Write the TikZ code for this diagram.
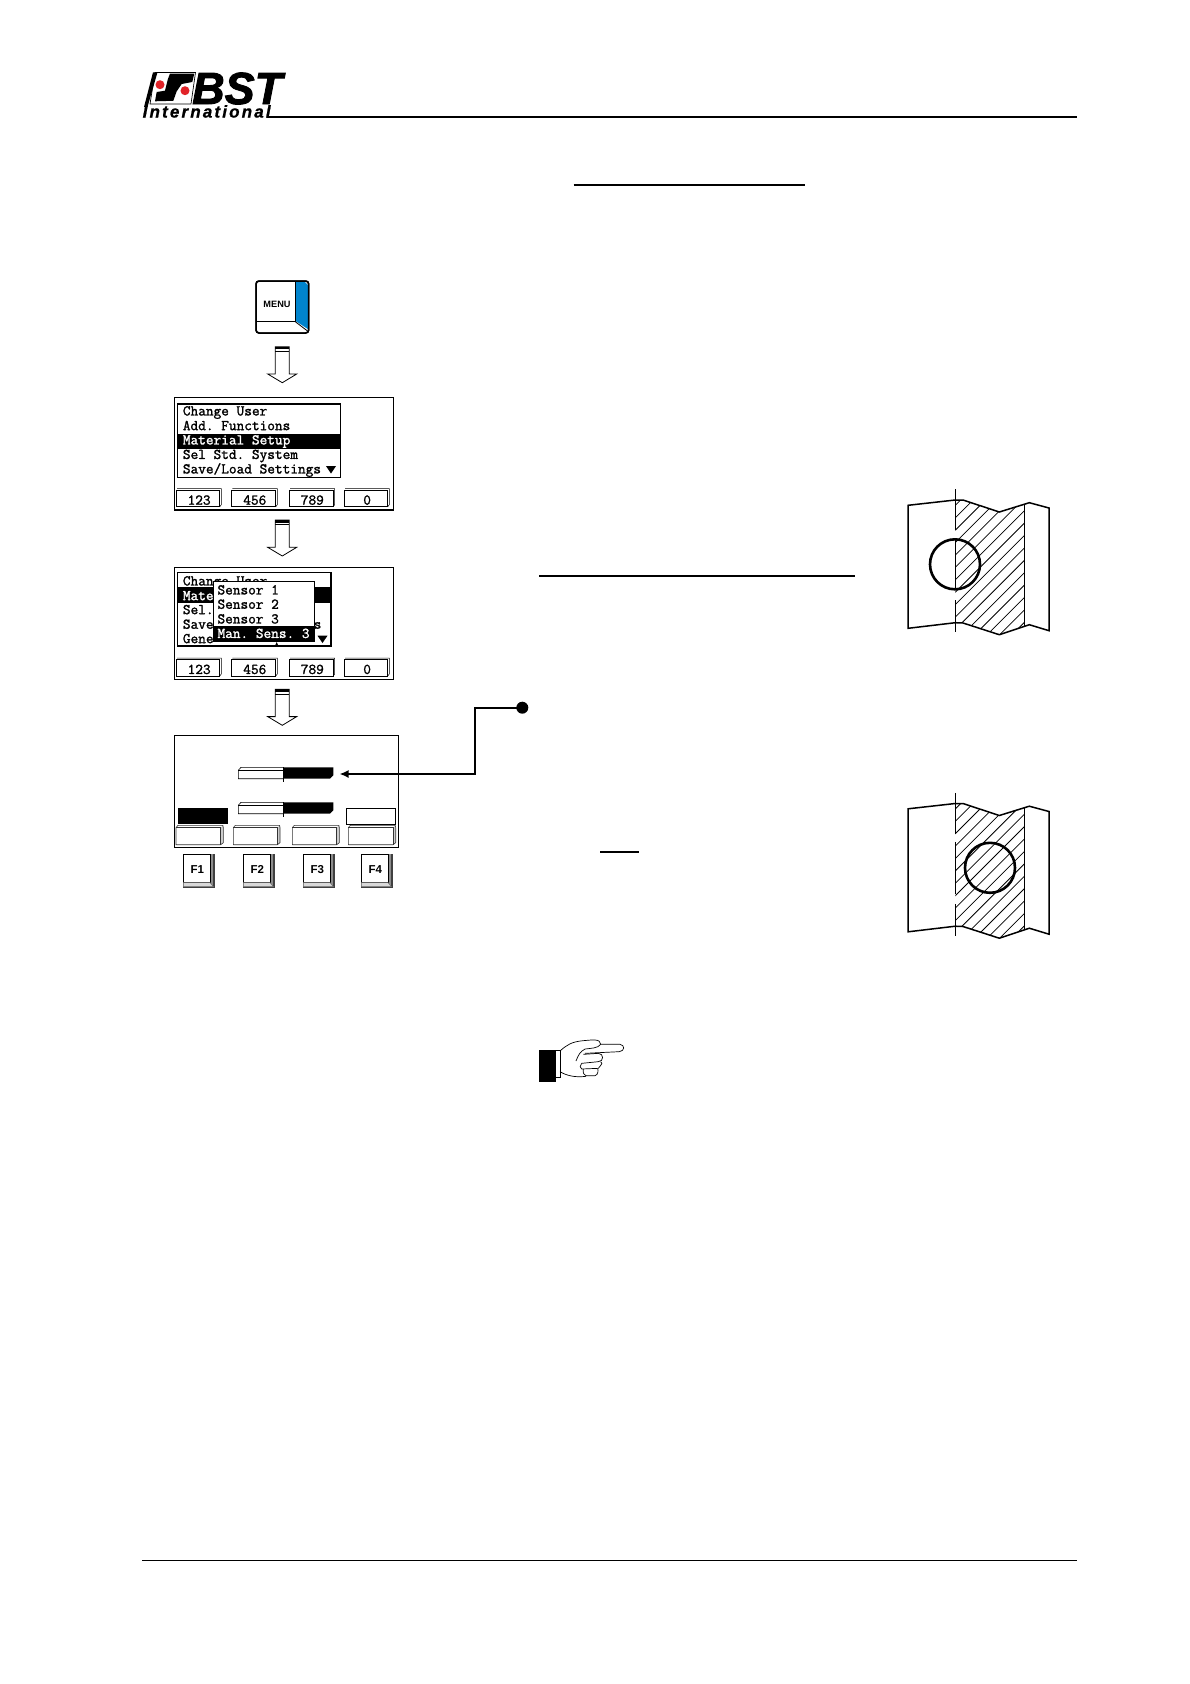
\documentclass[tikz,border=0pt]{standalone}
\usepackage{fontspec}
\usepackage{xcolor}
\usepackage{tikz}
\usetikzlibrary{arrows.meta,positioning}
\newfontfamily\labelfont{Liberation Sans}
\newfontfamily\logofont{Liberation Sans Bold Italic}[FakeBold=2]
\newfontfamily\logosmall{Liberation Sans Bold Italic}[FakeBold=1,LetterSpace=12.7]
\newfontfamily\menufont{Latin Modern Mono}[FakeBold=1.5]
\definecolor{keyblue}{RGB}{0,132,205}
\definecolor{logored}{RGB}{225,35,40}

\tikzset{
  menutext/.style={anchor=west, inner sep=0pt, text height=8.9pt, text depth=0pt, font=\menufont\fontsize{14.9}{15}\selectfont},
  menuinv/.style={menutext, text=white},
  softtext/.style={inner sep=0pt, text height=8.9pt, text depth=0pt, font=\menufont\fontsize{14.9}{15}\selectfont},
  frame/.style={draw=black, line width=1.1pt},
  rule/.style={draw=black, line width=1.6pt},
  leader/.style={draw=black, line width=1.8pt},
  fkey/.style={inner sep=0pt, font=\labelfont\bfseries\fontsize{11.5}{12}\selectfont},
  sheet/.style={draw=black, line width=1.5pt, line join=miter}
}

\begin{document}
\frenchspacing
\begin{tikzpicture}[x=1pt, y=-1pt]
  \fill[white] (0,0) rectangle (1190,1684);
  \useasboundingbox (0,0) rectangle (1190,1684);

  % page rules
  \draw[rule] (267,116.7) -- (1077,116.7);
  \draw[rule] (142,1560.6) -- (1077,1560.6);
  \draw[rule] (573.6,184.7) -- (804.6,184.7);
  \draw[rule] (539,575.7) -- (855,575.7);
  \draw[rule] (600,851.7) -- (639,851.7);

  % logo
  \fill (153,72.3) -- (157.5,72.3) -- (147.5,107) -- (144,107) -- cycle;
  \draw[line width=0.7pt] (155,72.5) -- (195.5,72.5) -- (191,104) -- (150,104) -- cycle;
  \fill (170,73.5) -- (194.3,73.5) -- (192.3,82) -- (181.7,84) -- (176.7,91.3) -- (173.3,100.8) -- (155,101.3) -- (156.7,92) -- (165,90.7) -- (167.7,79.7) -- cycle;
  \fill[logored] (160,84.7) circle (4.5);
  \fill[logored] (185,90.7) circle (4.5);
  \node[inner sep=0pt, anchor=base west, font=\logofont\fontsize{45}{45}\selectfont] (logobst) at (192,104) {BST};
  \node[inner sep=0pt, anchor=base west, font=\logosmall\fontsize{17}{17}\selectfont] (logoname) at (142.5,117.5) {International};

  % menu key
  \draw[fill=white, line width=1.5pt, rounded corners=3pt] (256,281) rectangle (308.7,333);
  \fill[keyblue] (295.5,282) -- (305,282) -- (307.8,285) -- (307.8,329) -- (295.5,321) -- cycle;
  \draw[line width=0.8pt] (295.3,281) -- (295.3,321.7) -- (256,321.7);
  \draw[line width=0.8pt] (295.3,321.7) -- (307.5,331);
  \draw[line width=1.5pt, rounded corners=3pt] (256,281) rectangle (308.7,333);
  \node[inner sep=0pt, font=\labelfont\bfseries\fontsize{9.2}{10}\selectfont] (menukey) at (277,304) {MENU};

  % block arrows between the screens
  \foreach \ay in {346.7,520,689.3} {
    \draw[line width=0.8pt, fill=white, line join=miter] (275.3,\ay) -- (289.3,\ay) -- (289.3,\ay+27.3) -- (296.7,\ay+27.3)
      -- (282.3,\ay+36) -- (267.7,\ay+27.3) -- (275.3,\ay+27.3) -- cycle;
    \fill (275.3,\ay) rectangle (289.3,\ay+2.6);
    \draw[line width=0.6pt] (275.3,\ay+4.6) -- (289.3,\ay+4.6);
  }

  % first screen
  \node[frame, minimum width=219pt, minimum height=112.7pt, inner sep=0pt] (scrone) at (283.8,453.6) {};
  \node[draw, line width=1.1pt, minimum width=163pt, minimum height=73.3pt, inner sep=0pt] (listone) at (259.2,440.6) {};
  \fill (178,434) rectangle (340.4,449);
  \node[menutext] (itemone) at (182.7,411) {Change User};
  \node[menutext] (itemtwo) at (182.7,425.7) {Add. Functions};
  \node[menuinv] (itemthree) at (182.7,440) {Material Setup};
  \node[menutext] (itemfour) at (182.7,454.5) {Sel Std. System};
  \node[menutext] (itemfive) at (182.7,469) {Save/Load Settings};
  \fill (326,466) -- (336,466) -- (331,473.5) -- cycle;

  % second screen
  \node[frame, minimum width=219pt, minimum height=112pt, inner sep=0pt] (scrtwo) at (283.8,623.3) {};
  \node[draw, line width=1.1pt, minimum width=153.3pt, minimum height=73.3pt, inner sep=0pt] (listtwo) at (254.3,609.3) {};
  \node[menutext] (subone) at (182.7,581) {Change User};
  \fill (178,586.7) rectangle (331.7,602.7);
  \node[menuinv] (subtwo) at (182.7,595.7) {Mate};
  \node[menutext] (subthree) at (182.7,609.7) {Sel.};
  \node[menutext] (subfour) at (182.7,624.3) {Save};
  \node[menutext] (subfive) at (182.7,638.7) {Gene};
  \node[menutext] (subsix) at (313.5,624.3) {s};
  \fill (317.5,635.7) -- (327.5,635.7) -- (322.5,643) -- cycle;
  \fill (275.2,645.3) -- (278.2,645.3) -- (276.7,642) -- cycle;
  \node[draw, fill=white, line width=1pt, minimum width=100.7pt, minimum height=59.7pt, inner sep=0pt] (popup) at (263.7,611.8) {};
  \fill (213.3,626) rectangle (314,641.7);
  \node[menutext] (sensone) at (217.3,590) {Sensor 1};
  \node[menutext] (senstwo) at (217.3,604.3) {Sensor 2};
  \node[menutext] (sensthree) at (217.3,619) {Sensor 3};
  \node[menuinv] (sensman) at (217.3,633.5) {Man. Sens. 3};

  % number keys of both screens
  \foreach \by in {488.7,658} {
    \foreach \xl/\xr/\lab in {176/221.3/123, 231.3/277.3/456, 289/334.7/789, 344/389.3/0} {
      \draw[line width=0.5pt] (\xl+1,\by) -- (\xr,\by) -- (\xr,\by+16) -- (\xr-1.5,\by+18);
      \draw[line width=1pt] (\xl,\by+1.5) rectangle (\xr-1.5,\by+18);
      \node[softtext] at ({(\xl+\xr)/2+0.5},\by+11.5) {\lab};
    }
  }

  % third screen
  \node[frame, line width=1.3pt, minimum width=224.4pt, minimum height=111.6pt, inner sep=0pt] (scrthree) at (286.5,791.5) {};
  \foreach \sy/\nm in {767.3/barone, 802.3/bartwo} {
    \coordinate (\nm) at (333.3,\sy+5.7);
    \fill (283,\sy) -- (333.3,\sy) -- (333.3,\sy+8) -- (330,\sy+11.4) -- (283,\sy+11.4) -- cycle;
    \draw[line width=0.6pt, fill=white] (238.3,\sy+3) -- (241,\sy) -- (283.3,\sy) -- (283.3,\sy+11.4) -- (238.3,\sy+11.4) -- cycle;
    \draw[line width=0.6pt] (238.3,\sy+3) -- (283.3,\sy+3);
    \draw[line width=0.6pt] (283.3,\sy) -- (283.3,\sy+14.4);
  }
  \node[fill=black, minimum width=50pt, minimum height=16pt, inner sep=0pt] (softblack) at (203,816) {};
  \node[draw, line width=0.8pt, minimum width=49.7pt, minimum height=16pt, inner sep=0pt] (softwhite) at (370.8,816) {};
  \foreach \xl/\xr in {176/223.3, 233.3/280, 292.3/339.3, 348.3/395.7} {
    \fill[black!20] (\xr-2.6,827.5) -- (\xr,825.3) -- (\xr,842.7) -- (\xr-2.6,844.7) -- cycle;
    \draw[line width=0.6pt, line join=round, black!80] (\xl,827.7) -- (\xl+2,825.3) -- (\xr-0.5,825.3) -- (\xr,827.7) -- (\xr,842.7) -- (\xr-2.6,844.7)
      -- (\xl,844.7) -- cycle;
    \draw[line width=0.6pt, black!80] (\xl,827.7) -- (\xr-2.6,827.7) -- (\xr-2.6,844.7);
  }

  % function keys
  \foreach \xl/\lab in {183.3/F1, 243.3/F2, 303.3/F3, 361.3/F4} {
    \fill[black!45] (\xl,854) rectangle (\xl+31.4,888);
    \fill[black!75] (\xl+29.5,854) rectangle (\xl+31.4,888);
    \fill[black!75] (\xl,886.5) rectangle (\xl+31.4,888);
    \draw[line width=0.6pt, fill=white] (\xl,854) rectangle (\xl+26.7,882.5);
    \draw[line width=0.5pt, black!60, fill=black!15] (\xl,882.5) -- (\xl+26.7,882.5) -- (\xl+30,886.5) -- (\xl,886.5) -- cycle;
    \node[fkey] (key\lab) at (\xl+14,869.5) {\lab};
  }

  % leader from the text dot to the first bar
  \node[circle, fill=black, minimum size=12pt, inner sep=0pt] (dotone) at (522.3,707.7) {};
  \coordinate (barend) at (339.5,774);
  \draw[leader, -{Latex[length=9pt,width=8pt]}] (dotone.center) -| (475,774) -- (barend);

  % web sketches with the sensor spot
  \foreach \oy/\cx/\nm in {0/955/webone, 303.5/990/webtwo} {
    \begin{scope}[yshift=-\oy pt]
      \begin{scope}
        \clip (955.3,500) -- (963,500) -- (999.3,512) -- (1024.7,504) -- (1024.7,625.7) -- (999.3,634.7) -- (963,623) -- (955.3,622.7) -- cycle;
        \foreach \k in {-14,...,14} {
          \draw[line width=0.75pt] (945,1510.3+12.4*\k-945) -- (1035,1510.3+12.4*\k-1035);
        }
      \end{scope}
      \draw[sheet] (955.3,500) -- (908,505.3) -- (908,628.3) -- (955.3,622.7);
      \draw[sheet] (955.3,500) -- (963,500) -- (999.3,512) -- (1029.3,502.7) -- (1049,508) -- (1049,630.7) -- (1029.3,624.7) -- (999.3,634.7) -- (963,623) -- (955.3,622.7);
      \draw[line width=0.8pt] (1024.7,504) -- (1024.7,625.7);
      \draw[line width=0.7pt, dash pattern=on 41pt off 8pt on 52pt off 10pt on 32pt] (955.3,489.3) -- (955.3,632.7);
      \node[circle, draw, line width=2.6pt, minimum size=50pt, inner sep=0pt] (\nm) at (\cx,564.3) {};
    \end{scope}
  }

  % pointing hand
  \begin{scope}[shift={(530,1025)}, x=0.3333pt, y=-0.3333pt, line width=0.7pt]
    \fill (27,75) rectangle (77,172);
    \draw (77,75) rectangle (90,157);
    \draw (90,78) .. controls (110,60) and (125,50) .. (160,47) .. controls (185,45) and (212,40) .. (212,58)
      -- (270,58) .. controls (285,60) and (285,78) .. (268,80) -- (165,85);
    \draw (212,58) .. controls (205,70) and (180,70) .. (165,72) .. controls (150,80) and (145,90) .. (138,108);
    \draw (160,88) -- (205,85) .. controls (222,85) and (222,110) .. (205,110) -- (155,115);
    \draw (155,115) .. controls (148,120) and (150,130) .. (155,132) -- (205,130) .. controls (218,115) and (218,112) .. (212,110);
    \draw (160,132) .. controls (158,145) and (162,150) .. (168,152) -- (195,152) .. controls (205,150) and (205,135) .. (203,130);
    \draw (90,140) .. controls (110,152) and (135,158) .. (168,154);
  \end{scope}
\end{tikzpicture}
\end{document}
